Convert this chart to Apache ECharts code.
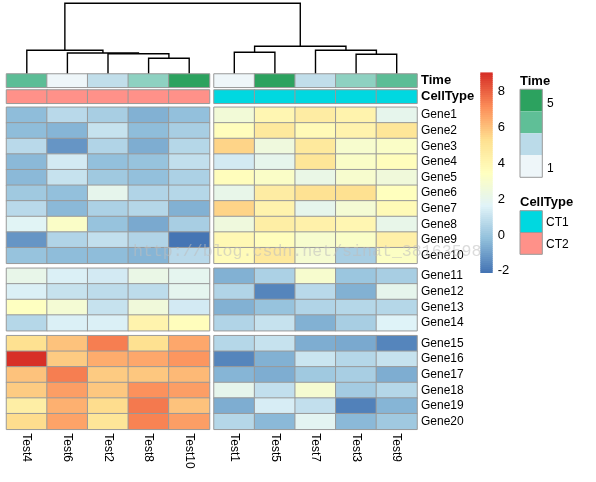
<!DOCTYPE html>
<html><head><meta charset="utf-8">
<script src="https://cdn.jsdelivr.net/npm/echarts@6/dist/echarts.min.js"></script>
<style>html,body{margin:0;padding:0;background:#fff}#c{width:596px;height:482px}</style>
</head><body><div id="c"></div>
<script>
// ---- data (columns in clustered display order) ----
const colNames = ['Test4','Test6','Test2','Test8','Test10','Test1','Test5','Test7','Test3','Test9'];
const geneNames = ['Gene1','Gene2','Gene3','Gene4','Gene5','Gene6','Gene7','Gene8','Gene9','Gene10',
  'Gene11','Gene12','Gene13','Gene14','Gene15','Gene16','Gene17','Gene18','Gene19','Gene20'];
const rowBlockSizes = [10, 4, 6];
const colBlockSizes = [5, 5];
const valuesGenes1to10 = [
  [-0.3, 0.7, 0.3, -0.6, -0.2, 2.7, 4.0, 4.6, 4.2, 2.0],
  [-0.3, -0.5, 1.0, -0.3, 0.3, 3.6, 4.8, 3.8, 4.2, 5.0],
  [0.7, -1.3, 0.5, -0.7, 0.6, 5.6, 2.5, 4.8, 3.0, 3.2],
  [-0.4, 1.3, -0.2, -0.1, 0.9, 1.3, 2.0, 5.0, 3.2, 3.6],
  [-0.4, 1.0, 0.1, -0.2, 0.4, 3.6, 3.2, 2.2, 3.0, 2.6],
  [0.1, -0.2, 2.0, 0.5, 0.6, 2.1, 4.6, 5.2, 5.3, 3.5],
  [0.7, -0.4, 0.4, 0.6, -0.6, 5.6, 4.2, 2.0, 2.8, 3.8],
  [1.7, 3.2, -0.1, -0.8, 0.3, 2.5, 4.5, 4.3, 4.0, 2.1],
  [-1.3, 0.5, 0.9, 0.5, -2.1, 3.9, 3.6, 3.0, 3.2, 4.4],
  [-0.1, -0.3, -0.3, -0.5, 0.7, 3.7, 4.8, 2.9, 0.3, 3.3]
];
const valuesGenes11to14 = [
  [2.1, 1.5, 1.3, 2.2, 1.9, -0.6, 0.4, 3.0, 0.0, 0.3],
  [1.5, 1.0, 0.8, 0.8, 1.9, 0.5, -1.7, 0.7, -0.6, 2.0],
  [3.4, 2.8, 1.0, 2.6, 1.3, -0.6, -0.1, 0.5, 0.6, 0.6],
  [0.6, 1.5, 1.5, 4.2, 3.6, 0.5, 1.0, -0.6, 0.3, 1.6]
];
const valuesGenes15to20 = [
  [5.3, 6.0, 7.5, 5.3, 6.6, 0.6, 1.0, -0.7, -0.8, -1.7],
  [9.05, 5.8, 6.5, 6.6, 7.0, -1.7, -0.6, 1.1, 0.6, 1.0],
  [6.0, 7.5, 5.8, 5.9, 6.2, -0.5, -0.7, 0.1, 0.3, -0.7],
  [5.8, 6.8, 5.9, 7.1, 6.8, 2.0, 0.9, 2.9, 0.2, 0.6],
  [4.5, 6.4, 5.4, 7.6, 6.0, -0.7, 1.4, 0.9, -1.8, -0.5],
  [5.4, 6.7, 5.0, 7.4, 6.8, 0.6, -0.4, 1.8, -0.4, 0.1]
];
const timeValues = [4, 1, 2, 3, 5, 1, 5, 2, 3, 4];
const cellTypes = ['CT2','CT2','CT2','CT2','CT2','CT1','CT1','CT1','CT1','CT1'];
const cellTypeLevels = ['CT1', 'CT2'];
const timeLevels = [1, 2, 3, 4, 5];
const timeLegendLabels = ['5', '1'];
const colorbarTicks = [-2, 0, 2, 4, 6, 8];
const valueRange = [-2.1, 9.05];
// hclust-style merges: negative = leaf (1-based, display order), positive = earlier merge
const dendroMerges = [
  [-4, -5, 15.7],
  [-3, 1, 20.3],
  [-2, 2, 21.0],
  [-1, 3, 23.7],
  [-9, -10, 19.7],
  [-6, -7, 21.7],
  [-8, 5, 23.7],
  [6, 7, 27.7],
  [4, 8, 70.7]
];
// ---- colours ----
const heatPalette = ['#4575B4','#91BFDB','#E0F3F8','#FFFFBF','#FEE090','#FC8D59','#D73027'];
const timePalette = ['#EEF6F9','#C1DEEA','#8ED1C1','#5CBD96','#2CA25F'];
const timeLegendColors = ['#2CA25F','#5FBF97','#BBDBE9','#EEF6F9'];
const cellTypePalette = ['#00D8E0','#FF9189'];

// ---- layout ----
const FONT = '"Liberation Sans", Arial, sans-serif';
const X0 = 6.5, BW = 203, GAPX = 4.5, COLW = BW / 5;
const DEND_TOP = 3.3, ANN_TOP = 74, ANN_H = 13.3, ANN_GAP = 2.7;
const HEAT_TOP = 107.3, ROW_H = 15.6, ROW_GAP = 5;
const BORDER = '#999999';

const values = valuesGenes1to10.concat(valuesGenes11to14, valuesGenes15to20);
const grids = [], xAxes = [], yAxes = [], series = [];
function addGrid(g, xa, ya) {
  grids.push(g); const i = grids.length - 1;
  xa.gridIndex = i; ya.gridIndex = i; xAxes.push(xa); yAxes.push(ya); return i;
}
const hidden = { axisLine:{show:false}, axisTick:{show:false}, splitLine:{show:false} };

// dendrogram
const GAPU = GAPX / COLW;
const leafX = colNames.map((_, i) => i + 0.5 + (i >= colBlockSizes[0] ? GAPU : 0));
const nodeX = [], nodeH = [];
function pos(k) { return k < 0 ? [leafX[-k - 1], 0] : [nodeX[k - 1], nodeH[k - 1]]; }
dendroMerges.forEach((m, i) => { const a = pos(m[0]), b = pos(m[1]); nodeX[i] = (a[0] + b[0]) / 2; nodeH[i] = m[2]; });
const maxH = Math.max(...nodeH);
let gi = addGrid({ left: X0, top: DEND_TOP, width: 2 * BW + GAPX, height: ANN_TOP - DEND_TOP },
  { type:'value', min:0, max:colNames.length + GAPU, show:false },
  { type:'value', min:0, max:maxH, show:false });
series.push({
  type:'custom', xAxisIndex:gi, yAxisIndex:gi, silent:true, clip:false,
  data: dendroMerges.map((m, i) => [nodeX[i], m[2]]),
  renderItem: (params, api) => {
    const m = dendroMerges[params.dataIndex];
    const a = pos(m[0]), b = pos(m[1]), h = m[2];
    return { type:'polyline', shape:{ points:[api.coord([a[0], a[1]]), api.coord([a[0], h]), api.coord([b[0], h]), api.coord([b[0], b[1]])] },
      style:{ stroke:'#000', lineWidth:1.4, fill:null } };
  }
});

// annotations
const timeIdx = [], ctIdx = [], heatIdx = [];
let colStart = 0;
colBlockSizes.forEach((nc, c) => {
  const cols = colNames.slice(colStart, colStart + nc);
  ['Time', 'CellType'].forEach((name, a) => {
    const g = addGrid({ left: X0 + c * (BW + GAPX), top: ANN_TOP + a * (ANN_H + ANN_GAP), width: BW, height: ANN_H },
      Object.assign({ type:'category', data: cols, axisLabel:{show:false} }, hidden),
      Object.assign({ type:'category', data:[name], position:'right',
        axisLabel:{ show: c === colBlockSizes.length - 1, interval:0, fontFamily:FONT, fontWeight:'bold', fontSize:13, color:'#000', margin:4, padding:[3,0,0,0] } }, hidden));
    const data = cols.map((_, j) => {
      const k = colStart + j;
      return [j, 0, a === 0 ? timeValues[k] : cellTypeLevels.indexOf(cellTypes[k]) + 1];
    });
    (a === 0 ? timeIdx : ctIdx).push(series.length);
    series.push({ type:'heatmap', xAxisIndex:g, yAxisIndex:g, data, silent:true,
      itemStyle:{ borderColor:BORDER, borderWidth:1 }, emphasis:{disabled:true} });
  });
  colStart += nc;
});

// heatmap blocks
colStart = 0;
colBlockSizes.forEach((nc, c) => {
  const cols = colNames.slice(colStart, colStart + nc);
  let rowStart = 0;
  rowBlockSizes.forEach((nr, r) => {
    const rows = geneNames.slice(rowStart, rowStart + nr);
    const g = addGrid({ left: X0 + c * (BW + GAPX), top: HEAT_TOP + rowStart * ROW_H + r * ROW_GAP, width: BW, height: nr * ROW_H },
      Object.assign({ type:'category', data: cols,
        axisLabel:{ show: r === rowBlockSizes.length - 1, interval:0, rotate:-90, fontFamily:FONT, fontSize:12, color:'#000', margin:4 } }, hidden),
      Object.assign({ type:'category', data: rows, inverse:true, position:'right',
        axisLabel:{ show: c === colBlockSizes.length - 1, interval:0, fontFamily:FONT, fontSize:12, color:'#000', margin:4, padding:[3,0,0,0] } }, hidden));
    const data = [];
    rows.forEach((_, i) => cols.forEach((_, j) => data.push([j, i, values[rowStart + i][colStart + j]])));
    heatIdx.push(series.length);
    series.push({ type:'heatmap', xAxisIndex:g, yAxisIndex:g, data, silent:true,
      itemStyle:{ borderColor:BORDER, borderWidth:1 }, emphasis:{disabled:true} });
    rowStart += nr;
  });
  colStart += nc;
});

// colour bar
function hex(c) { return [1, 3, 5].map(i => parseInt(c.substr(i, 2), 16)); }
function ramp(t) {
  const p = t * (heatPalette.length - 1), i = Math.min(Math.floor(p), heatPalette.length - 2), f = p - i;
  const a = hex(heatPalette[i]), b = hex(heatPalette[i + 1]);
  return 'rgb(' + a.map((v, k) => Math.round(v + (b[k] - v) * f)).join(',') + ')';
}
const NSTEP = 100;
const cb = addGrid({ left: 480.3, top: 72.7, width: 12.4, height: 200 },
  { type:'value', min:0, max:1, show:false },
  Object.assign({ type:'value', min:valueRange[0], max:valueRange[1], position:'right',
    axisLabel:{ customValues: colorbarTicks, fontFamily:FONT, fontSize:13, color:'#000', margin:5 } }, hidden));
series.push({ type:'custom', xAxisIndex:cb, yAxisIndex:cb, silent:true,
  data: Array.from({ length: NSTEP }, (_, i) => [0.5, valueRange[0] + (i + 0.5) * (valueRange[1] - valueRange[0]) / NSTEP]),
  renderItem: (params, api) => {
    const i = params.dataIndex, s = (valueRange[1] - valueRange[0]) / NSTEP;
    const p0 = api.coord([0, valueRange[0] + i * s]), p1 = api.coord([1, valueRange[0] + (i + 1) * s]);
    return { type:'rect', shape:{ x:p0[0], y:p1[1] - 0.3, width:p1[0] - p0[0], height:p0[1] - p1[1] + 0.6 },
      style:{ fill: ramp(i / (NSTEP - 1)) } };
  }
});

// legends for annotations
const LX = 520, LW = 22.3;
const graphic = [];
graphic.push({ type:'text', x:LX, y:81, style:{ text:'Time', font:'bold 13px ' + FONT, fill:'#000', textVerticalAlign:'middle' } });
timeLegendColors.forEach((col, i) => graphic.push({ type:'rect', shape:{ x:LX, y:89.3 + i * 22, width:LW, height:22 }, style:{ fill:col } }));
graphic.push({ type:'rect', shape:{ x:LX, y:89.3, width:LW, height:88 }, style:{ fill:null, stroke:BORDER, lineWidth:1 } });
graphic.push({ type:'text', x:547, y:103.5, style:{ text:timeLegendLabels[0], font:'12px ' + FONT, fill:'#000', textVerticalAlign:'middle' } });
graphic.push({ type:'text', x:547, y:168.5, style:{ text:timeLegendLabels[1], font:'12px ' + FONT, fill:'#000', textVerticalAlign:'middle' } });
graphic.push({ type:'text', x:LX, y:202, style:{ text:'CellType', font:'bold 13px ' + FONT, fill:'#000', textVerticalAlign:'middle' } });
cellTypeLevels.forEach((lv, i) => {
  graphic.push({ type:'rect', shape:{ x:LX, y:210.7 + i * 21.8, width:LW, height:21.8 }, style:{ fill:cellTypePalette[i], stroke:BORDER, lineWidth:1 } });
  graphic.push({ type:'text', x:546, y:222.5 + i * 21.8, style:{ text:lv, font:'12px ' + FONT, fill:'#000', textVerticalAlign:'middle' } });
});
graphic.push({ type:'text', x:133, y:251.5, silent:true, z:100,
  style:{ text:'http://blog.csdn.net/sinat_38163598', font:'16.6px "Liberation Mono", monospace', fill:'rgba(190,190,190,0.55)', textVerticalAlign:'middle' } });

const chart = echarts.init(document.getElementById('c'), null, { renderer:'canvas' });
chart.setOption({
  animation:false, backgroundColor:'#fff',
  grid: grids, xAxis: xAxes, yAxis: yAxes, series,
  visualMap: [
    { type:'continuous', show:false, min:valueRange[0], max:valueRange[1], seriesIndex:heatIdx, dimension:2, inRange:{ color:heatPalette } },
    { type:'piecewise', show:false, seriesIndex:timeIdx, dimension:2, pieces: timeLevels.map((v, i) => ({ value:v, color:timePalette[i] })) },
    { type:'piecewise', show:false, seriesIndex:ctIdx, dimension:2, pieces: cellTypeLevels.map((v, i) => ({ value:i + 1, color:cellTypePalette[i] })) }
  ],
  graphic
});
</script></body></html>
